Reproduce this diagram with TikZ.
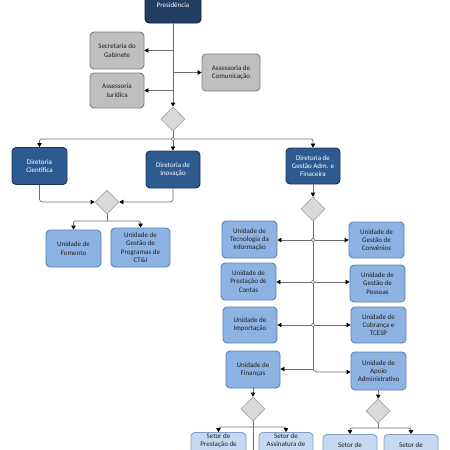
\documentclass[tikz,border=0pt]{standalone}
\usepackage{fontspec}
\setmainfont{Carlito}
\usetikzlibrary{arrows.meta,shapes.geometric,calc}
\definecolor{presfill}{HTML}{213F63}
\definecolor{presline}{HTML}{0F1F33}
\definecolor{dirfill}{HTML}{2E5B8F}
\definecolor{dirline}{HTML}{1B365D}
\definecolor{unifill}{HTML}{8DB3E2}
\definecolor{uniline}{HTML}{5A82B8}
\definecolor{setfill}{HTML}{C6D9F1}
\definecolor{setline}{HTML}{7FA0C8}
\definecolor{gryfill}{HTML}{BFBFBF}
\definecolor{gryline}{HTML}{7F7F7F}
\definecolor{decfill}{HTML}{D9D9D9}
\definecolor{decline}{HTML}{A6A6A6}
\definecolor{conline}{HTML}{6E6E6E}
\definecolor{txtdark}{HTML}{1F1F1F}
\begin{document}
\begin{tikzpicture}[x=1pt,y=-1pt,
 box/.style={draw, rounded corners=4pt, line width=0.9pt, align=center,
   font=\fontsize{7}{8.3}\selectfont, inner sep=1pt, minimum width=55pt, minimum height=37pt},
 pres/.style={box, fill=presfill, draw=presline, text=white},
 dir/.style={box, fill=dirfill, draw=dirline, text=white},
 uni/.style={box, fill=unifill, draw=uniline, text=txtdark},
 gry/.style={box, fill=gryfill, draw=gryline, text=txtdark},
 setor/.style={box, fill=setfill, draw=setline, text=txtdark, minimum height=0pt, anchor=north, text depth=28pt},
 dec/.style={diamond, draw=decline, fill=decfill, line width=0.7pt, minimum width=24pt, minimum height=24pt, inner sep=0pt},
 con/.style={draw=conline, line width=0.7pt},
 arr/.style={con, -{Triangle[length=4pt,width=4.5pt,color=black]}},
 hop/.style={draw=conline, line width=0.6pt, fill=white},
]
\useasboundingbox (0,0) rectangle (450,450);
\clip (0,0) rectangle (450,450);
% top
\node[pres, minimum width=56pt, minimum height=36pt] (pres) at (173,5) {Presidência};
\node[gry, minimum width=54pt] (sec) at (117,50.5) {Secretaria do\\Gabinete};
\node[gry, minimum width=54pt, minimum height=35pt] (jur) at (117,90.5) {Assessoria\\Jurídica};
\node[gry, minimum width=58pt] (com) at (231,72.5) {Assessoria de\\Comunicação};
\node[dec] (d1) at (173,119) {};
% diretorias
\node[dir] (cie) at (39.5,166) {Diretoria\\Científica};
\node[dir, minimum width=54pt] (ino) at (173,169.5) {Diretoria de\\Inovação};
\node[dir, minimum width=54pt, minimum height=36pt] (ges) at (313,166) {Diretoria de\\Gestão Adm. e\\Finaceira};
\node[dec] (d2) at (107,202) {};
\node[uni] (fom) at (73.5,248.5) {Unidade de\\Fomento};
\node[uni, minimum width=59pt, minimum height=39pt] (gpr) at (140.5,247.5) {Unidade de\\Gestão de\\Programas de\\CT\&I};
\node[dec] (d3) at (313,209) {};
% unidades
\node[uni] (ti) at (249.5,239.5) {Unidade de\\Tecnologia da\\Informação};
\node[uni, minimum height=36pt] (cv) at (376.5,240) {Unidade de\\Gestão de\\Convênios};
\node[uni] (pc) at (248.5,281.5) {Unidade de\\Prestação de\\Contas};
\node[uni] (gp) at (377.5,283.5) {Unidade de\\Gestão de\\Pessoas};
\node[uni, minimum width=54pt, minimum height=36pt] (imp) at (250,325) {Unidade de\\Importação};
\node[uni, minimum height=36pt] (cob) at (378.5,325) {Unidade de\\Cobrança e\\TCESP};
\node[uni, minimum width=54pt] (fin) at (253,369.5) {Unidade de\\Finanças};
\node[uni, minimum height=38pt] (apo) at (378.5,371) {Unidade de\\Apoio\\Administrativo};
\node[dec] (d4) at (253,409) {};
\node[dec] (d5) at (378,411) {};
% setores
\node[setor] (s1) at (218.5,432) {Setor de\\Prestação de};
\node[setor, minimum width=54pt] (s2) at (286,432) {Setor de\\Assinatura de};
\node[setor, minimum width=54pt, text height=12.5pt] (s3) at (350,434) {Setor de};
\node[setor, minimum width=54pt, text height=12.5pt] (s4) at (411,434) {Setor de};
% connectors top
\draw[arr] (pres.south) -- (d1.north);
\draw[arr] (pres.south |- sec.east) -- (sec.east);
\draw[arr] (pres.south |- com.west) -- (com.west);
\draw[arr] (pres.south |- jur.east) -- (jur.east);
\coordinate (hb) at (173,139);
\draw[arr, rounded corners=2pt] (hb) -| (cie.north);
\draw[arr, rounded corners=2pt] (hb) -| (ges.north);
\draw[arr] (d1.south) -- (ino.north);
\draw[hop] (hb) circle (1.8);
% diretorias to units
\draw[arr, rounded corners=3pt] (cie.south) |- (d2.west);
\draw[arr, rounded corners=3pt] (ino.south) |- (d2.east);
\coordinate (d2b) at (107,221);
\draw[con] (d2.south) -- (d2b);
\draw[arr, rounded corners=2pt] (d2b) -| (fom.north);
\draw[arr, rounded corners=2pt] (d2b) -| (gpr.north);
% gestao trunk
\draw[arr] (ges.south) -- (d3.north);
\coordinate (tend) at (313,369);
\draw[con] (d3.south) -- (tend);
\coordinate (t1) at (313,240);
\coordinate (t2) at (313,282);
\coordinate (t3) at (313,325);
\draw[arr] (t1) -- (ti.east |- t1);
\draw[arr] (t1) -- (cv.west |- t1);
\draw[arr] (t2) -- (pc.east |- t2);
\draw[arr] (t2) -- (gp.west |- t2);
\draw[arr] (t3) -- (imp.east |- t3);
\draw[arr] (t3) -- (cob.west |- t3);
\draw[hop] (t1) circle (1.8);
\draw[hop] (t2) circle (1.8);
\draw[hop] (t3) circle (1.8);
\draw[arr] (tend) -- (fin.east |- tend);
\draw[arr, rounded corners=1.5pt] (tend) -- (315,372) -- (apo.west |- 0,372);
% finance
\draw[arr] (fin.south) -- (d4.north);
\draw[con] (d4.south) -- ++(0,60);
\coordinate (d4b) at (253,427);
\draw[arr, rounded corners=2pt] (d4b) -| (s1.north);
\draw[arr, rounded corners=2pt] (d4b) -| (s2.north);
% apoio
\draw[arr] (apo.south) -- (d5.north);
\coordinate (d5b) at (378,428);
\draw[con] (d5.south) -- (d5b);
\draw[arr, rounded corners=2pt] (d5b) -| (s3.north);
\draw[arr, rounded corners=2pt] (d5b) -| (s4.north);
\end{tikzpicture}
\end{document}
